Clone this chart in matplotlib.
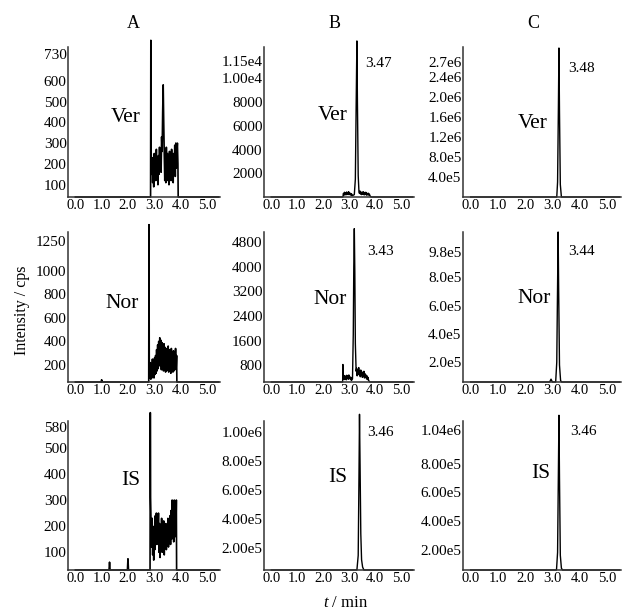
import matplotlib
matplotlib.use("Agg")
import matplotlib.pyplot as plt

plt.rcParams["font.family"] = "serif"
plt.rcParams["font.serif"] = ["Liberation Serif", "DejaVu Serif"]
plt.rcParams["mathtext.fontset"] = "custom"
plt.rcParams["mathtext.it"] = "Liberation Serif:italic"

# chromatogram traces: (time / min, intensity / cps)
A_VER = [(0.0, 41), (2.86, 41), (2.87, 794), (2.88, 270), (2.90, 150), (2.92, 230), (2.94, 110),
         (2.96, 200), (2.98, 90), (3.00, 250), (3.02, 140), (3.04, 190), (3.06, 120), (3.08, 270),
         (3.10, 130), (3.12, 210), (3.14, 100), (3.16, 240), (3.18, 150), (3.20, 280), (3.22, 170),
         (3.24, 230), (3.26, 160), (3.28, 330), (3.30, 260), (3.32, 450), (3.34, 580), (3.36, 400),
         (3.38, 250), (3.40, 120), (3.42, 220), (3.44, 110), (3.46, 280), (3.48, 160), (3.50, 250),
         (3.52, 120), (3.54, 200), (3.56, 100), (3.58, 260), (3.60, 140), (3.62, 230), (3.64, 120),
         (3.66, 270), (3.68, 150), (3.70, 220), (3.72, 110), (3.74, 250), (3.76, 160), (3.78, 290),
         (3.80, 140), (3.82, 300), (3.84, 180), (3.86, 260), (3.88, 300), (3.90, 200), (3.91, 41),
         (5.45, 41)]
A_NOR = [(0.0, 56), (0.98, 56), (1.0, 75), (1.02, 56), (2.79, 56), (2.80, 1388), (2.81, 180),
         (2.83, 90), (2.85, 220), (2.87, 80), (2.89, 200), (2.91, 90), (2.93, 250), (2.95, 100),
         (2.97, 230), (2.99, 90), (3.01, 260), (3.03, 120), (3.05, 280), (3.07, 130), (3.09, 330),
         (3.11, 150), (3.13, 370), (3.15, 170), (3.17, 400), (3.19, 200), (3.21, 430), (3.23, 190),
         (3.25, 410), (3.27, 160), (3.29, 390), (3.31, 180), (3.33, 370), (3.35, 150), (3.37, 380),
         (3.39, 170), (3.41, 350), (3.43, 140), (3.45, 340), (3.47, 150), (3.49, 320), (3.51, 160),
         (3.53, 360), (3.55, 140), (3.57, 330), (3.59, 170), (3.61, 310), (3.63, 130), (3.65, 340),
         (3.67, 160), (3.69, 300), (3.71, 140), (3.73, 320), (3.75, 150), (3.77, 290), (3.79, 170),
         (3.81, 340), (3.83, 160), (3.85, 280), (3.86, 56), (5.45, 56)]
A_IS = [(0.0, 32), (1.28, 32), (1.30, 62), (1.32, 32), (1.98, 32), (2.00, 75), (2.02, 32),
        (2.84, 32), (2.85, 635), (2.86, 310), (2.88, 200), (2.90, 120), (2.92, 230), (2.94, 90),
        (2.96, 180), (2.98, 70), (3.00, 200), (3.02, 110), (3.04, 240), (3.06, 150), (3.08, 250),
        (3.10, 130), (3.12, 240), (3.14, 160), (3.16, 250), (3.18, 100), (3.20, 210), (3.22, 80),
        (3.24, 190), (3.26, 120), (3.28, 230), (3.30, 100), (3.32, 200), (3.34, 130), (3.36, 220),
        (3.38, 90), (3.40, 180), (3.42, 140), (3.44, 210), (3.46, 110), (3.48, 190), (3.50, 150),
        (3.52, 230), (3.54, 120), (3.56, 200), (3.58, 140), (3.60, 240), (3.62, 130), (3.64, 260),
        (3.66, 150), (3.68, 300), (3.70, 180), (3.72, 290), (3.74, 140), (3.76, 300), (3.78, 200),
        (3.80, 290), (3.82, 160), (3.84, 300), (3.85, 32), (5.45, 32)]
B_VER = [(0.0, 0), (2.76, 0), (2.78, 300), (2.80, 150), (2.82, 400), (2.84, 200), (2.86, 350),
         (2.88, 180), (2.90, 420), (2.92, 250), (2.94, 380), (2.96, 200), (2.98, 450), (3.00, 220),
         (3.02, 350), (3.04, 180), (3.06, 300), (3.08, 150), (3.10, 250), (3.12, 120), (3.16, 150),
         (3.20, 200), (3.24, 1500), (3.27, 7500), (3.30, 13150), (3.32, 8000), (3.35, 1800),
         (3.38, 400), (3.40, 300), (3.42, 500), (3.44, 250), (3.46, 420), (3.48, 200), (3.50, 380),
         (3.52, 230), (3.54, 450), (3.56, 200), (3.58, 350), (3.60, 180), (3.62, 400), (3.64, 220),
         (3.66, 380), (3.68, 150), (3.70, 300), (3.72, 200), (3.74, 320), (3.76, 150), (3.78, 250),
         (3.80, 120), (3.84, 0), (5.45, 0)]
B_NOR = [(0.0, 250), (2.75, 250), (2.76, 820), (2.77, 350), (2.79, 420), (2.81, 330), (2.83, 460),
         (2.85, 350), (2.87, 430), (2.89, 320), (2.91, 470), (2.93, 360), (2.95, 440), (2.97, 340),
         (2.99, 480), (3.01, 380), (3.03, 420), (3.05, 330), (3.07, 400), (3.09, 300), (3.13, 350),
         (3.16, 1800), (3.18, 4000), (3.20, 5240), (3.22, 3800), (3.24, 1500), (3.27, 600),
         (3.29, 700), (3.31, 450), (3.33, 650), (3.35, 500), (3.37, 720), (3.39, 480), (3.41, 600),
         (3.43, 420), (3.45, 640), (3.47, 460), (3.49, 580), (3.51, 400), (3.53, 560), (3.55, 430),
         (3.57, 600), (3.59, 380), (3.61, 520), (3.63, 400), (3.65, 480), (3.67, 350), (3.69, 450),
         (3.71, 330), (3.73, 400), (3.75, 300), (3.80, 250), (5.45, 250)]
B_IS = [(0.0, 5e4), (3.30, 5e4), (3.35, 1.5e5), (3.38, 7.0e5), (3.40, 1.12e6), (3.42, 8.0e5),
        (3.45, 3.0e5), (3.48, 1.2e5), (3.52, 7e4), (3.57, 5e4), (5.45, 5e4)]
C_VER = [(0.0, 0), (3.15, 0), (3.18, 3.0e5), (3.21, 1.8e6), (3.23, 2.98e6), (3.25, 1.7e6),
         (3.28, 2.5e5), (3.32, 0), (5.45, 0)]
C_NOR = [(0.0, 6e4), (2.89, 6e4), (2.94, 8e4), (2.99, 6e4), (3.11, 6e4), (3.15, 2.0e5),
         (3.18, 7.5e5), (3.20, 1.12e6), (3.22, 7.0e5), (3.25, 1.8e5), (3.29, 7e4), (3.33, 6e4),
         (5.45, 6e4)]
C_IS = [(0.0, 5.7e4), (3.14, 5.7e4), (3.18, 1.8e5), (3.21, 7.5e5), (3.23, 1.14e6), (3.25, 7.0e5),
        (3.28, 1.6e5), (3.32, 7e4), (3.36, 5.7e4), (5.45, 5.7e4)]

X_TICKS = [0, 1, 2, 3, 4, 5]
X_TICKLABELS = ["0.0", "1.0", "2.0", "3.0", "4.0", "5.0"]

# y ticks (value, label) per panel
Y_A_VER = [(100, "100"), (200, "200"), (300, "300"), (400, "400"), (500, "500"), (600, "600"), (730, "730")]
Y_A_NOR = [(200, "200"), (400, "400"), (600, "600"), (800, "800"), (1000, "1000"), (1250, "1250")]
Y_A_IS = [(100, "100"), (200, "200"), (300, "300"), (400, "400"), (500, "500"), (580, "580")]
Y_B_VER = [(2000, "2000"), (4000, "4000"), (6000, "6000"), (8000, "8000"), (10000, "1.00e4"), (11500, "1.15e4")]
Y_B_NOR = [(800, "800"), (1600, "1600"), (2400, "2400"), (3200, "3200"), (4000, "4000"), (4800, "4800")]
Y_B_IS = [(2e5, "2.00e5"), (4e5, "4.00e5"), (6e5, "6.00e5"), (8e5, "8.00e5"), (1e6, "1.00e6")]
Y_C_VER = [(4e5, "4.0e5"), (8e5, "8.0e5"), (1.2e6, "1.2e6"), (1.6e6, "1.6e6"), (2.0e6, "2.0e6"),
           (2.4e6, "2.4e6"), (2.7e6, "2.7e6")]
Y_C_NOR = [(2e5, "2.0e5"), (4e5, "4.0e5"), (6e5, "6.0e5"), (8e5, "8.0e5"), (9.8e5, "9.8e5")]
Y_C_IS = [(2e5, "2.00e5"), (4e5, "4.00e5"), (6e5, "6.00e5"), (8e5, "8.00e5"), (1.04e6, "1.04e6")]

Y_LIMITS = {
    "A_VER": (41, 762), "A_NOR": (56, 1326), "A_IS": (32, 603),
    "B_VER": (0, 12640), "B_NOR": (250, 5130), "B_IS": (5e4, 1.074e6),
    "C_VER": (0, 3.0e6), "C_NOR": (6e4, 1.12e6), "C_IS": (5.7e4, 1.1e6),
}

COLUMNS = ["A", "B", "C"]
COMPOUNDS = ["Ver", "Nor", "IS"]
RT_LABELS = {"B": ["3.47", "3.43", "3.46"], "C": ["3.48", "3.44", "3.46"]}

TRACES = {"A_VER": A_VER, "A_NOR": A_NOR, "A_IS": A_IS,
          "B_VER": B_VER, "B_NOR": B_NOR, "B_IS": B_IS,
          "C_VER": C_VER, "C_NOR": C_NOR, "C_IS": C_IS}
YTICKS = {"A_VER": Y_A_VER, "A_NOR": Y_A_NOR, "A_IS": Y_A_IS,
          "B_VER": Y_B_VER, "B_NOR": Y_B_NOR, "B_IS": Y_B_IS,
          "C_VER": Y_C_VER, "C_NOR": Y_C_NOR, "C_IS": Y_C_IS}

# layout in pixels
W, H = 624, 613
COL_LEFT = [68, 264, 463]
COL_WIDTH = [152, 150, 158]
ROW_TOP = [47, 232, 421]
ROW_BOTTOM = [197, 382, 570]

# compound label positions (axes fraction)
NAME_POS = {
    "A_VER": (0.38, 0.53), "A_NOR": (0.355, 0.52), "A_IS": (0.41, 0.60),
    "B_VER": (0.46, 0.54), "B_NOR": (0.44, 0.55), "B_IS": (0.49, 0.62),
    "C_VER": (0.44, 0.49), "C_NOR": (0.45, 0.555), "C_IS": (0.49, 0.65),
}
RT_POS = {
    "B_VER": (0.76, 0.89), "B_NOR": (0.78, 0.87), "B_IS": (0.78, 0.92),
    "C_VER": (0.75, 0.86), "C_NOR": (0.75, 0.87), "C_IS": (0.76, 0.93),
}

fig = plt.figure(figsize=(W / 100, H / 100), dpi=100)

for ci, col in enumerate(COLUMNS):
    for ri, comp in enumerate(COMPOUNDS):
        key = f"{col}_{comp.upper()}"
        left = COL_LEFT[ci] / W
        bottom = 1 - ROW_BOTTOM[ri] / H
        ax = fig.add_axes([left, bottom, COL_WIDTH[ci] / W, (ROW_BOTTOM[ri] - ROW_TOP[ri]) / H])

        t = [p[0] for p in TRACES[key]]
        y = [p[1] for p in TRACES[key]]
        ax.plot(t, y, color="black", lw=1.2 if col == "A" else 1.0, clip_on=False)

        ax.set_xlim(-0.28, 5.5)
        ax.set_ylim(*Y_LIMITS[key])
        ax.set_xticks(X_TICKS)
        ax.set_xticklabels(X_TICKLABELS)
        ax.set_yticks([v for v, _ in YTICKS[key]])
        ax.set_yticklabels([s for _, s in YTICKS[key]])
        ax.tick_params(axis="x", length=0, labelsize=10.5, pad=1.5)
        ax.tick_params(axis="y", length=0, labelsize=11, pad=1)

        for s in ["top", "right"]:
            ax.spines[s].set_visible(False)
        for s in ["left", "bottom"]:
            ax.spines[s].set_linewidth(1.1)
            ax.spines[s].set_color("#333333")

        ax.text(*NAME_POS[key], comp, transform=ax.transAxes, fontsize=15.5,
                ha="center", va="center")
        if key in RT_POS:
            ax.text(*RT_POS[key], RT_LABELS[col][ri], transform=ax.transAxes,
                    fontsize=11, ha="center", va="center")

# column titles
for x, name in zip([133, 335, 533], COLUMNS):
    fig.text(x / W, 1 - 24 / H, name, fontsize=13, ha="center", va="center")

fig.text(22 / W, 1 - 310 / H, "Intensity / cps", rotation=90, fontsize=11.5,
         ha="center", va="center")
fig.text(346 / W, 1 - 603 / H, r"$\it{t}$ / min", fontsize=12, ha="center", va="center")

fig.savefig("out.png", dpi=100)
